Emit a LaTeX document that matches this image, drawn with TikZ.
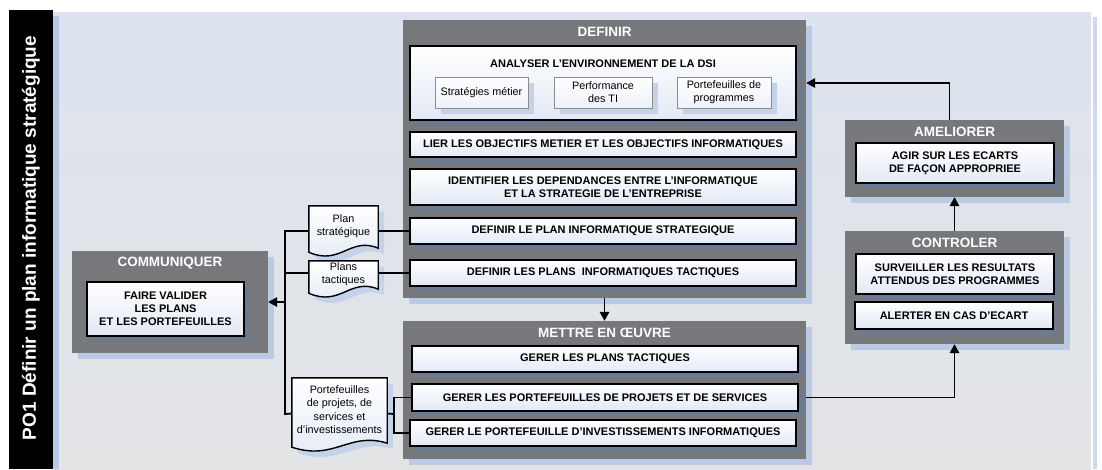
\documentclass[tikz,border=0pt]{standalone}
\usepackage{fontspec}
\setmainfont{Liberation Sans}
\usetikzlibrary{arrows.meta,shadows,calc}

\definecolor{grpgrey}{HTML}{77787C}
\definecolor{grpshadow}{HTML}{B9CAE2}
\definecolor{boxshadow}{HTML}{6C7A91}
\definecolor{boxlow}{HTML}{E2E9F5}
\definecolor{subline}{HTML}{8C8C8C}
\definecolor{subshadow}{HTML}{C4D3E9}
\definecolor{paneltop}{HTML}{DCE3EE}
\definecolor{panelbot}{HTML}{E3E4E6}
\definecolor{stripblue}{HTML}{B8CAE3}

\pgfdeclarelayer{back}
\pgfdeclarelayer{docs}
\pgfsetlayers{back,docs,main}

% outline of a document symbol (wavy bottom) around a named node, with its shadow
\newcommand\docoutline[1]{%
  \begin{pgfonlayer}{docs}
  \foreach \dd/\sty in {6pt/docshade,0pt/docbody}{%
    \path[\sty] let \p1=(#1.south west), \p2=(#1.north east) in
      (\x1+\dd,\y2-\dd) -- (\x2+\dd,\y2-\dd) -- (\x2+\dd,\y1-2pt-\dd)
      .. controls (0.6*\x2+0.4*\x1+\dd,\y1+10pt-\dd) and (0.55*\x1+0.45*\x2+\dd,\y1-20pt-\dd)
      .. (\x1+\dd,\y1-6pt-\dd) -- cycle;}
  \end{pgfonlayer}}

\tikzset{
  % place a rectangular node by its top-left and bottom-right corners (x0,y0,x1,y1)
  corners/.code args={#1,#2,#3,#4}{%
    \pgfmathsetmacro\bxc{(#1+#3)/2}\pgfmathsetmacro\byc{(#2+#4)/2}%
    \pgfmathsetmacro\bxw{#3-#1}\pgfmathsetmacro\byh{#4-#2}%
    \edef\bxtmp{\noexpand\pgfkeysalso{at={(\bxc,\byc)},
      minimum width=\bxw pt, minimum height=\byh pt}}\bxtmp},
  grp/.style={fill=grpgrey, inner sep=0pt,
    drop shadow={shadow xshift=6pt,shadow yshift=-6pt,fill=grpshadow,opacity=1}},
  grptitle/.style={text=white, inner sep=0pt, anchor=base,
    font=\fontsize{13.5}{16}\selectfont\bfseries},
  task/.style={draw=black, line width=1.4pt, top color=white, bottom color=boxlow,
    inner sep=0pt, align=center, font=\fontsize{11}{13.2}\selectfont\bfseries,
    drop shadow={shadow xshift=5pt,shadow yshift=-5pt,fill=boxshadow,opacity=1}},
  tasktitle/.style={inner sep=0pt, anchor=base, font=\fontsize{11}{13}\selectfont\bfseries},
  sub/.style={draw=subline, line width=0.8pt, top color=white, bottom color=boxlow!60!white,
    inner sep=0pt, align=center, font=\fontsize{10.8}{13}\selectfont,
    drop shadow={shadow xshift=6pt,shadow yshift=-6pt,fill=subshadow,opacity=1}},
  doctext/.style={inner sep=0pt, align=center, font=\fontsize{10.8}{13.3}\selectfont},
  docshade/.style={fill=subshadow},
  docbody/.style={draw=black, line width=1.4pt, top color=white, bottom color=boxlow},
  conn/.style={draw=black, line width=1.8pt, line join=miter},
  arrow/.style={conn, -{Triangle[length=9pt,width=9.5pt]}},
  sidetitle/.style={text=white, inner sep=0pt, font=\fontsize{19}{22}\selectfont\bfseries}
}

\begin{document}
\begin{tikzpicture}[x=1pt,y=-1pt]
\useasboundingbox (0,0) rectangle (1102,469);

% page frame: title band and light panel
\begin{pgfonlayer}{back}
  \fill[black] (9,10) rectangle (53,469);
  \shade[top color=paneltop,bottom color=panelbot] (53,12) rectangle (1091,469);
  \fill[stripblue] (53,16) rectangle (59,469);
  \fill[stripblue!70!white] (1093,17) rectangle (1097,469);
\end{pgfonlayer}
\node[sidetitle, rotate=90] (pagetitle) at (31,238) {PO1 Définir un plan informatique stratégique};

% DEFINIR
\node[grp, corners={403,20,806,298}] (definir) {};
\node[grptitle] (definirT) at (604.5,36) {DEFINIR};
\node[task, corners={410,46,796,120}] (analyse) {};
\node[tasktitle] (analyseT) at (603,67) {ANALYSER L'ENVIRONNEMENT DE LA DSI};
\node[sub, corners={435,77,528,108}] (strat) {Stratégies métier};
\node[sub, corners={554,77,652,108}] (perf) {Performance\\des TI};
\node[sub, corners={677,77,771,108}] (portprog) {Portefeuilles de\\programmes};
\node[task, corners={410,132,796,157}] (lier) {LIER LES OBJECTIFS METIER ET LES OBJECTIFS INFORMATIQUES};
\node[task, corners={410,169,796,205}] (ident) {IDENTIFIER LES DEPENDANCES ENTRE L'INFORMATIQUE\\ET LA STRATEGIE DE L'ENTREPRISE};
\node[task, corners={410,218,796,244}] (defplan) {DEFINIR LE PLAN INFORMATIQUE STRATEGIQUE};
\node[task, corners={410,260,796,286}] (deftac) {DEFINIR LES PLANS~ INFORMATIQUES TACTIQUES};

% METTRE EN OEUVRE
\node[grp, corners={403,321,806,459}] (mettre) {};
\node[grptitle] (mettreT) at (604.5,337) {METTRE EN ŒUVRE};
\node[task, corners={412,346,798,372}] (gertac) {GERER LES PLANS TACTIQUES};
\node[task, corners={412,384,798,411}] (gerport) {GERER LES PORTEFEUILLES DE PROJETS ET DE SERVICES};
\node[task, corners={410,420,796,446}] (gerinv) {GERER LE PORTEFEUILLE D'INVESTISSEMENTS INFORMATIQUES};

% AMELIORER
\node[grp, corners={845,120,1064,197}] (amel) {};
\node[grptitle] (amelT) at (954.5,136) {AMELIORER};
\node[task, corners={856,143,1054,183}] (agir) {AGIR SUR LES ECARTS\\DE FAÇON APPROPRIEE};

% CONTROLER
\node[grp, corners={845,231,1064,344}] (ctrl) {};
\node[grptitle] (ctrlT) at (954.5,247) {CONTROLER};
\node[task, corners={856,254,1054,294}] (surv) {SURVEILLER LES RESULTATS\\ATTENDUS DES PROGRAMMES};
\node[task, corners={855,302,1053,329}] (alert) {ALERTER EN CAS D'ECART};

% COMMUNIQUER
\node[grp, corners={72,251,268,353}] (comm) {};
\node[grptitle] (commT) at (170,266) {COMMUNIQUER};
\node[task, corners={87,282,244,336}] (valid) {FAIRE VALIDER\\LES PLANS\\ET LES PORTEFEUILLES};

% documents
\node[doctext, corners={309,206,378,246}] (docS) {Plan\\stratégique};
\node[doctext, corners={309,261,378,287}] (docT) {Plans\\tactiques};
\node[doctext, corners={292,378,387,441}] (docP) {Portefeuilles\\de projets, de\\services et\\d'investissements};
\docoutline{docS}
\docoutline{docT}
\docoutline{docP}

% connectors
\coordinate (bus) at (285,302);
\coordinate (busend) at (285,414);
\coordinate (fork) at (394,414);
\draw[conn] (docS.west |- defplan.west) -| (busend) -- ([yshift=-4pt]docP.west);
\draw[conn] (docS.east |- defplan.west) -- (defplan.west);
\draw[conn] (docT.west |- deftac.west) -- (bus |- deftac.west);
\draw[conn] (docT.east |- deftac.west) -- (deftac.west);
\draw[arrow] (bus) -- (comm.east);
\draw[conn] ([yshift=-4pt]docP.east) -- (fork);
\draw[conn] (gerport.west) -| (fork) |- (gerinv.west);
\draw[arrow] (definir.south) -- (mettre.north);
\draw[arrow] (gerport.east -| mettre.east) -| (ctrl.south);
\draw[arrow] (ctrl.north) -- (amel.south);
\draw[arrow] ([xshift=-5pt]amel.north) |- (analyse.east -| definir.east);
\end{tikzpicture}
\end{document}
